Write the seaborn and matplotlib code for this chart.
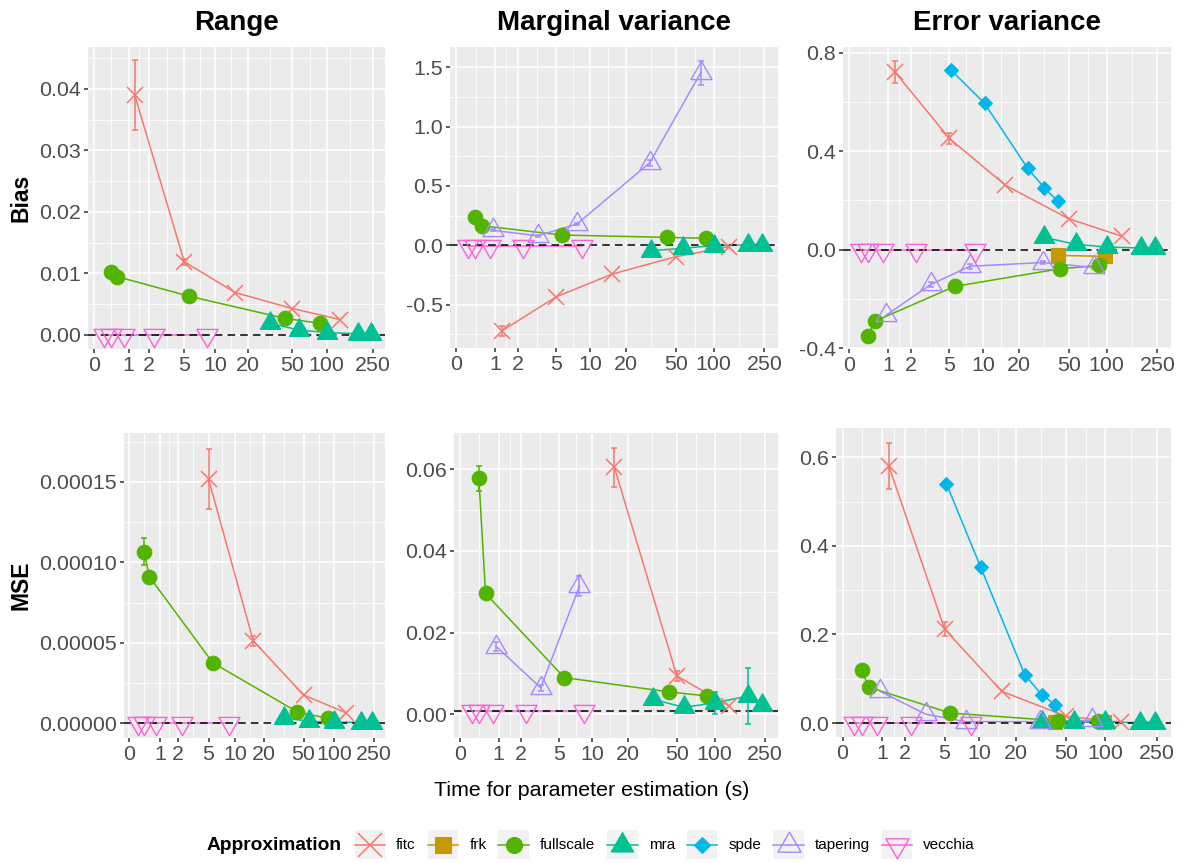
import numpy as np
import pandas as pd
import matplotlib
matplotlib.use("Agg")
import matplotlib.pyplot as plt
import seaborn as sns
from matplotlib.ticker import FixedLocator, FixedFormatter
from matplotlib.patches import Rectangle
from matplotlib.lines import Line2D
from matplotlib.path import Path

plt.rcParams['font.family'] = ['Liberation Sans', 'DejaVu Sans']

nan = np.nan

methods = ["fitc", "frk", "fullscale", "mra", "spde", "tapering", "vecchia"]
colors = ["#F8766D", "#C49A00", "#53B400", "#00C094", "#00B6EB", "#A58AFF", "#FB61D7"]

# time for parameter estimation (s) of each approximation
times = {
    "fitc": [1.25, 5.0, 15.4, 50, 131],
    "frk": [41, 97],
    "fullscale": [0.40, 0.58, 5.6, 43, 87],
    "mra": [32, 57, 100, 185, 240],
    "spde": [5.2, 10.3, 23.5, 32, 41],
    "tapering": [0.92, 3.3, 7.7, 31, 79],
    "vecchia": [0.23, 0.40, 0.82, 2.3, 8.5],
}

x_ticks = [0, 1, 2, 5, 10, 20, 50, 100, 250]

# --- Bias ---
range_bias = {
    "fitc": [0.0390, 0.0119, 0.0069, 0.0043, 0.0025],
    "fullscale": [0.0103, 0.0095, 0.0063, 0.0027, 0.0019],
    "mra": [0.0019, 0.0008, 0.0004, 0.0002, 0.0002],
    "vecchia": [0, 0, 0, 0, 0],
}
range_bias_err = {"fitc": [0.0057, 0.0005, 0, 0, 0]}

margvar_bias = {
    "fitc": [-0.722, -0.433, -0.242, -0.096, -0.012],
    "fullscale": [0.241, 0.165, 0.087, 0.067, 0.059],
    "mra": [-0.045, -0.025, -0.003, 0.003, 0.003],
    "tapering": [0.127, 0.08, 0.18, 0.695, 1.455],
    "vecchia": [-0.005, -0.005, -0.005, -0.005, -0.005],
}
margvar_bias_err = {"fitc": [0.04, 0, 0, 0, 0],
                    "tapering": [0.01, 0.01, 0.01, 0.025, 0.1]}

errvar_bias = {
    "fitc": [0.723, 0.452, 0.262, 0.126, 0.055],
    "frk": [-0.023, -0.027],
    "fullscale": [-0.349, -0.290, -0.149, -0.077, -0.064],
    "mra": [0.05, 0.022, 0.011, 0.007, 0.007],
    "spde": [0.729, 0.594, 0.330, 0.251, 0.197],
    "tapering": [-0.267, -0.141, -0.067, -0.052, -0.072],
    "vecchia": [0, 0, 0, 0, 0],
}
errvar_bias_err = {"fitc": [0.045, 0.022, 0, 0, 0],
                   "tapering": [0, 0.01, 0.01, 0.005, 0.005]}

# --- MSE ---
range_mse = {
    "fitc": [nan, 1.516e-4, 5.13e-5, 1.76e-5, 6.6e-6],
    "fullscale": [1.066e-4, 9.1e-5, 3.76e-5, 7.2e-6, 3.1e-6],
    "mra": [3.5e-6, 1.2e-6, 8e-7, 5e-7, 5e-7],
    "vecchia": [0, 0, 0, 0, 0],
}
range_mse_err = {"fitc": [0, 1.85e-5, 3e-6, 0, 0],
                 "fullscale": [8.5e-6, 0, 0, 0, 0]}

margvar_mse = {
    "fitc": [nan, nan, 0.0605, 0.0094, 0.0020],
    "fullscale": [0.0578, 0.0296, 0.0090, 0.0055, 0.0045],
    "mra": [0.0037, 0.0017, 0.0028, 0.0045, 0.0022],
    "tapering": [0.0166, 0.0065, 0.0314, nan, nan],
    "vecchia": [0.0009, 0.0009, 0.0009, 0.0009, 0.0009],
}
margvar_mse_err = {"fitc": [0, 0, 0.0048, 0.0012, 0],
                   "fullscale": [0.003, 0.0012, 0, 0, 0],
                   "tapering": [0.0012, 0.0008, 0.0025, 0, 0],
                   "mra": [0, 0, 0.0027, 0.0068, 0.001]}

errvar_mse = {
    "fitc": [0.581, 0.212, 0.0714, 0.015, 0.002],
    "frk": [0.003, 0.002],
    "fullscale": [0.119, 0.081, 0.0226, 0.005, 0.004],
    "mra": [0.003, 0.002, 0.002, 0.001, 0.001],
    "spde": [0.540, 0.352, 0.109, 0.064, 0.041],
    "tapering": [0.072, 0.02, 0.003, 0.003, 0.006],
    "vecchia": [0, 0, 0, 0, 0],
}
errvar_mse_err = {"fitc": [0.052, 0.016, 0, 0, 0]}

col_titles = ["Range", "Marginal variance", "Error variance"]
row_labels = ["Bias", "MSE"]

W, H = 1183, 863

# marker shapes (ggplot-like triangles centred on their centroid)
tri_up = Path([(0, 1.555), (1.347, -0.778), (-1.347, -0.778), (0, 1.555)], closed=True)
tri_dn = Path([(0, -1.555), (1.347, 0.778), (-1.347, 0.778), (0, -1.555)], closed=True)
marker_style = {
    "fitc": dict(marker="x", ms=12, mfc="none", mew=1.1),
    "frk": dict(marker="s", ms=10, mew=0.8),
    "fullscale": dict(marker="o", ms=10.5, mew=0.8),
    "mra": dict(marker=tri_up, ms=17, mew=0.8),
    "spde": dict(marker="D", ms=7.5, mew=0.8),
    "tapering": dict(marker=tri_up, ms=17.5, mfc="none", mew=1.0),
    "vecchia": dict(marker=tri_dn, ms=17.5, mfc="none", mew=1.0),
}


def fwd(x):
    return np.log10(np.clip(1 + np.asarray(x, dtype=float), 1e-9, None))


def inv(y):
    return 10 ** np.asarray(y, dtype=float) - 1


def minor_between(ticks, f, finv, lo, hi):
    t = f(np.array(ticks, dtype=float))
    step0 = t[1] - t[0]
    step1 = t[-1] - t[-2]
    ext = np.concatenate([[t[0] - step0], t, [t[-1] + step1]])
    mids = finv((ext[:-1] + ext[1:]) / 2)
    return [m for m in mids if lo <= m <= hi]


panels = [
    (range_bias, range_bias_err, [0, 0.01, 0.02, 0.03, 0.04], "{:.2f}",
     (-0.00228, 0.0468), 0.0, (88, 47, 385, 349)),
    (margvar_bias, margvar_bias_err, [-0.5, 0.0, 0.5, 1.0, 1.5], "{:.1f}",
     (-0.865, 1.671), 0.0, (450, 47, 778, 348)),
    (errvar_bias, errvar_bias_err, [-0.4, 0.0, 0.4, 0.8], "{:.1f}",
     (-0.403, 0.823), 0.0, (843, 47, 1171, 349)),
    (range_mse, range_mse_err, [0, 5e-5, 1e-4, 1.5e-4], "{:.5f}",
     (-0.0000091, 0.0001803), 0.0, (124, 433, 385, 738)),
    (margvar_mse, margvar_mse_err, [0, 0.02, 0.04, 0.06], "{:.2f}",
     (-0.0058, 0.0689), 0.0009, (454, 433, 778, 738)),
    (errvar_mse, errvar_mse_err, [0, 0.2, 0.4, 0.6], "{:.1f}",
     (-0.0316, 0.666), 0.0, (836, 428, 1171, 737)),
]

fig = plt.figure(figsize=(W / 100, H / 100), dpi=100)

xlo, xhi = float(inv(-0.05)), float(inv(2.505))
x_minor = minor_between(x_ticks, fwd, inv, xlo, xhi)

for vals, errs, yt, fmt, ylim, ref, (x0, y0, x1, y1) in panels:
    ax = fig.add_axes([x0 / W, 1 - y1 / H, (x1 - x0) / W, (y1 - y0) / H])
    ax.set_facecolor("#EBEBEB")
    ax.set_xscale("function", functions=(fwd, inv))

    # lines
    for m, c in zip(methods, colors):
        if m not in vals:
            continue
        df = pd.DataFrame({"time": times[m], "value": vals[m]}).dropna()
        sns.lineplot(data=df, x="time", y="value", color=c, lw=1.1, ax=ax,
                     estimator=None, errorbar=None, sort=False, zorder=2)

    ax.axhline(ref, color="black", lw=1.1, dashes=(5, 3.3), zorder=2.5)

    # error bars and points
    for m, c in zip(methods, colors):
        if m not in vals:
            continue
        df = pd.DataFrame({"time": times[m], "value": vals[m]})
        if m in errs:
            df["err"] = errs[m]
            e = df.dropna()
            e = e[e["err"] > 0]
            ax.errorbar(e["time"], e["value"], yerr=e["err"], fmt="none",
                        ecolor=c, elinewidth=1.1, capsize=2.5, capthick=1.1,
                        zorder=2.6)
        df = df.dropna(subset=["value"])
        st = dict(marker_style[m])
        st.setdefault("mfc", c)
        sns.lineplot(data=df, x="time", y="value", ax=ax, estimator=None,
                     errorbar=None, sort=False, linestyle="none", color=c,
                     mec=c, zorder=3, **st)

    ax.set_xlim(xlo, xhi)
    ax.set_ylim(*ylim)
    ax.xaxis.set_major_locator(FixedLocator(x_ticks))
    ax.xaxis.set_major_formatter(FixedFormatter([str(t) for t in x_ticks]))
    ax.xaxis.set_minor_locator(FixedLocator(x_minor))
    ax.yaxis.set_major_locator(FixedLocator(yt))
    ax.yaxis.set_major_formatter(FixedFormatter([fmt.format(v) for v in yt]))
    ax.yaxis.set_minor_locator(FixedLocator(
        minor_between(yt, lambda v: v, lambda v: v, ylim[0], ylim[1])))
    ax.grid(True, which="major", color="white", lw=1.1)
    ax.grid(True, which="minor", color="white", lw=0.55)
    ax.set_axisbelow(True)
    for s in ax.spines.values():
        s.set_visible(False)
    ax.tick_params(which="major", length=2.9, width=1.1, color="#333333",
                   labelcolor="#4D4D4D", labelsize=15.4, pad=2.2)
    ax.tick_params(which="minor", length=0)
    ax.set_xlabel("")
    ax.set_ylabel("")

# overlay in pixel coordinates for titles, labels and legend
lax = fig.add_axes([0, 0, 1, 1], zorder=-1)
lax.set_xlim(0, W)
lax.set_ylim(H, 0)
lax.axis("off")

for title, cx in zip(col_titles, [236.5, 614, 1007]):
    lax.text(cx, 30, title, ha="center", va="baseline", fontsize=20,
             fontweight="bold")
for lab, cy in zip(row_labels, [198, 585.5]):
    lax.text(21, cy, lab, ha="center", va="center", rotation=90,
             fontsize=16.5, fontweight="bold")
lax.text(W / 2, 790, "Time for parameter estimation (s)", ha="center",
         va="center", fontsize=15.4)

# legend
fig.canvas.draw()
renderer = fig.canvas.get_renderer()
t = lax.text(206.7, 845, "Approximation", ha="left", va="center",
             fontsize=13.75, fontweight="bold")
x = t.get_window_extent(renderer).x1 + 13
ky, kw, kh = 844.7, 30.5, 29.3
for m, c in zip(methods, colors):
    lax.add_patch(Rectangle((x, ky - kh / 2), kw, kh, facecolor="#F2F2F2",
                            edgecolor="none"))
    lax.add_line(Line2D([x, x + kw], [ky, ky], color=c, lw=1.1))
    st = dict(marker_style[m])
    st.setdefault("mfc", c)
    st["ms"] = st["ms"] * (1.4 if m == "fitc" else 1.1)
    lax.add_line(Line2D([x + kw / 2], [ky], linestyle="none", color=c,
                        mec=c, **st))
    lt = lax.text(x + kw + 11, 845, m, ha="left", va="center", fontsize=11)
    x = lt.get_window_extent(renderer).x1 + 12

fig.savefig("out.png", dpi=100)
